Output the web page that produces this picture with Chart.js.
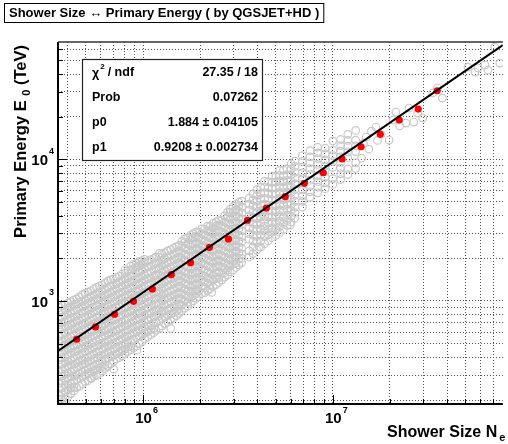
<!DOCTYPE html>
<html><head><meta charset="utf-8">
<script src="https://cdn.jsdelivr.net/npm/chart.js@4/dist/chart.umd.min.js"></script>
<style>html,body{margin:0;padding:0;background:#fff;overflow:hidden}</style>
</head><body>
<canvas id="c" width="508" height="444"></canvas>
<script>
// ---------- data ----------
const titleText = 'Shower Size \u2194 Primary Energy ( by QGSJET+HD )';
const xRange = [3.565e5, 7.87e7];
const yRange = [187.5, 6.73e4];
const xTicks = [4e5,5e5,6e5,7e5,8e5,9e5,1e6,2e6,3e6,4e6,5e6,6e6,7e6,8e6,9e6,1e7,2e7,3e7,4e7,5e7,6e7,7e7];
const yTicks = [200,300,400,500,600,700,800,900,1e3,2e3,3e3,4e3,5e3,6e3,7e3,8e3,9e3,1e4,2e4,3e4,4e4,5e4,6e4];
const xMajor = [1e6, 1e7];
const yMajor = [1e3, 1e4];
const xMajorExp = ['6', '7'];
const yMajorExp = ['3', '4'];

// red profile points
const fitNe = [4.47e5,5.62e5,7.08e5,8.91e5,1.12e6,1.41e6,1.78e6,2.24e6,2.82e6,3.55e6,4.47e6,5.62e6,7.08e6,8.91e6,1.12e7,1.41e7,1.78e7,2.24e7,2.82e7,3.55e7];
const fitE  = [537,656,806,995,1215,1534,1864,2393,2740,3715,4530,5445,6770,8040,10050,12270,15010,18930,22640,30470];

// fitted line end points
const lineNe = [3.565e5, 7.87e7];
const lineE  = [444, 63900];

// grey scatter: shower sizes (columns) and the energies seen in each column
const cloudNe = [3.63e5,3.89e5,4.17e5,4.47e5,4.79e5,5.13e5,5.50e5,5.89e5,6.31e5,6.76e5,7.24e5,7.76e5,8.32e5,8.91e5,9.55e5,1.02e6,1.10e6,1.17e6,1.26e6,1.35e6,1.45e6,1.55e6,1.66e6,1.78e6,1.91e6,2.04e6,2.19e6,2.34e6,2.51e6,2.69e6,2.88e6,3.09e6,3.31e6,3.63e6,3.98e6,4.37e6,4.79e6,5.25e6,5.75e6,6.31e6,6.92e6,7.59e6,8.32e6,9.12e6,1.00e7,1.10e7,1.20e7,1.32e7];
const cloudE = [
 [180,200,216,241,262,292,318,353,384,428,465,516,563,625,680,755,825,900],
 [192,210,228,255,275,306,333,370,402,448,488,541,590,655,714,792,865,945],
 [222,243,262,293,317,354,383,427,464,517,562,626,681,756,824,913,990],
 [245,279,301,338,365,408,443,493,536,596,649,720,786,871,950,1035],
 [260,293,316,355,383,429,463,518,561,627,680,757,823,915,995,1110],
 [274,307,332,371,402,449,486,543,589,656,713,793,864,960,1045,1160],
 [295,322,348,390,421,471,510,569,618,689,748,833,905,1006,1094,1220],
 [308,338,365,409,442,494,535,597,648,722,785,873,950,1055,1146,1275],
 [334,355,389,422,470,511,568,619,687,749,832,906,1004,1097,1215,1340],
 [360,407,444,493,537,596,650,720,787,871,952,1054,1148,1274,1410],
 [390,423,469,512,567,620,686,750,830,908,1003,1098,1213,1327,1470],
 [410,448,488,541,591,655,715,792,866,958,1048,1153,1268,1405,1550],
 [440,472,516,563,624,682,755,826,913,998,1103,1208,1334,1457,1640],
 [466,537,595,650,719,787,870,953,1052,1148,1272,1398,1533,1688,1812],
 [500,561,626,681,754,824,912,1002,1097,1212,1328,1463,1608,1773,1895],
 [542,590,655,714,792,865,958,1047,1153,1266,1403,1527,1693,1857,1965],
 [578,628,680,757,823,915,996,1104,1207,1335,1456,1614,1766,1955],
 [621,713,791,864,959,1046,1155,1265,1404,1526,1695,1855,2045],
 [666,750,831,907,1004,1096,1214,1326,1465,1606,1774,1946,2145],
 [712,793,866,952,1055,1147,1273,1397,1535,1686,1863,2037,2260],
 [762,826,914,998,1102,1206,1333,1458,1612,1768,1953,2138,2365],
 [818,880,951,1053,1146,1274,1396,1534,1687,1864,2036,2255,2466],
 [890,1003,1098,1212,1328,1462,1607,1772,1948,2143,2357,2594,2745],
 [958,1048,1154,1267,1404,1528,1692,1858,2044,2247,2474,2716,2905],
 [1045,1128,1214,1326,1463,1608,1774,1946,2142,2363,2588,2855,3075],
 [1130,1268,1403,1526,1694,1856,2043,2252,2468,2724,2985,3225],
 [1185,1332,1457,1613,1768,1953,2137,2364,2586,2853,3137,3375],
 [1265,1405,1527,1696,1855,2046,2248,2473,2717,2994,3286,3535],
 [1352,1463,1606,1775,1947,2144,2356,2593,2847,3143,3446,3705],
 [1475,1585,1700,1857,2042,2253,2466,2723,2988,3294,3615,3985],
 [1605,1772,1946,2145,2358,2592,2846,3144,3453,3796,4185,4440],
 [1725,1858,2043,2246,2474,2716,2993,3287,3624,3986,4384,4815],
 [1868,2000,2142,2357,2594,2848,3137,3455,3795,4183,4587,5060],
 [2045,2255,2720,2985,3295,3615,3995,4385,4825,5310],
 [2290,2590,2852,3138,3452,3803,4176,4594,5047,5565,6110],
 [2540,2850,3100,3380,3700,4020,4390,4820,5290,5810,6400,6980],
 [2800,3060,3300,3620,3950,4330,4720,5170,5680,6250,6880,7600],
 [3050,3350,3660,4010,4400,4830,5320,5840,6420,7040,7700,8350],
 [3420,3700,4050,4450,4870,5350,5890,6480,7110,7800,8560],
 [3850,4200,4600,5050,5560,6110,6700,7380,8100,8900,9700],
 [4600,5050,5520,6080,6650,7300,8030,8800,9660,10600],
 [5400,5900,6500,7120,7820,8600,9450,10400,11500],
 [5800,6350,6950,7650,8400,9200,10100,11100,12200],
 [6200,6800,7450,8180,9000,9900,10900,12000],
 [6650,7300,8780,9650,10600,11600,13500],
 [7200,7900,8650,9500,10400,11400,12500,13800],
 [7800,8550,10300,11300,12400,13600,15000],
 [8600,9450,11350,12450,13650,16000]
];
// grey scatter, in-between columns
const midNe = [3.76e5,4.03e5,4.32e5,4.62e5,4.95e5,5.31e5,5.69e5,6.10e5,6.53e5,7.00e5,7.50e5,8.04e5,8.61e5,9.23e5,9.89e5,1.06e6,1.14e6,1.22e6,1.30e6,1.40e6,1.50e6,1.60e6,1.72e6,1.84e6,1.97e6,2.11e6,2.26e6,2.43e6,2.60e6,2.79e6,2.99e6,3.20e6,3.80e6,4.17e6,4.57e6,5.01e6,5.50e6,6.03e6];
const midE = [
 [186,204,224,244,272,296,329,358,398,434,481,525,581,636,703,769,851,925],
 [212,236,257,285,311,345,376,417,455,504,550,610,666,737,807,892,968],
 [233,247,272,296,328,359,397,435,480,526,580,637,702,770,850,932,1015],
 [250,284,311,344,378,414,458,501,553,607,669,734,810,889,980,1070],
 [270,298,326,361,395,437,478,528,578,639,700,772,848,935,1024,1130],
 [283,313,342,378,414,458,501,553,607,669,734,810,889,980,1075,1180],
 [298,328,359,397,435,480,526,580,637,702,770,850,932,1026,1128,1245],
 [320,344,378,414,458,501,553,607,669,734,810,889,980,1075,1180,1300],
 [346,396,437,478,528,578,639,700,772,848,935,1024,1128,1240,1380],
 [375,414,458,501,553,607,669,734,810,889,980,1075,1180,1300,1430],
 [398,437,478,528,578,639,700,772,848,935,1024,1128,1240,1363,1497],
 [424,458,501,553,607,669,734,810,889,980,1075,1180,1300,1435,1568,1660],
 [452,479,527,579,638,701,771,849,933,1025,1128,1240,1363,1497,1650,1760],
 [481,552,608,668,735,809,890,979,1076,1179,1302,1435,1568,1732,1850],
 [518,579,638,701,771,849,933,1025,1128,1240,1363,1497,1650,1814,1930],
 [557,608,668,735,809,890,979,1076,1179,1302,1435,1568,1732,1907],
 [598,638,701,771,849,933,1025,1128,1240,1363,1497,1650,1814,1999],
 [642,720,790,868,950,1048,1152,1270,1390,1530,1685,1850,2035,2165],
 [690,771,849,933,1025,1128,1240,1363,1497,1650,1814,1999,2194],
 [736,809,890,979,1076,1179,1302,1435,1568,1732,1907,2091,2306],
 [788,849,933,1025,1128,1240,1363,1497,1650,1814,1999,2194,2419],
 [850,935,1030,1129,1244,1370,1505,1655,1822,2004,2200,2425,2640],
 [920,979,1076,1179,1302,1435,1568,1732,1907,2091,2306,2532,2788],
 [1000,1085,1185,1300,1430,1575,1730,1905,2090,2300,2530,2790,2990],
 [1076,1179,1302,1435,1568,1732,1907,2091,2306,2532,2788,3065],
 [1145,1240,1363,1497,1650,1814,1999,2194,2419,2655,2921,3219],
 [1220,1302,1435,1568,1732,1907,2091,2306,2532,2788,3065,3372],
 [1305,1440,1580,1740,1910,2100,2310,2540,2790,3070,3380,3610],
 [1405,1568,1732,1907,2091,2306,2532,2788,3065,3372,3711],
 [1525,1650,1814,1999,2194,2419,2655,2921,3219,3536,3895,4250],
 [1655,1820,2000,2200,2420,2660,2930,3220,3540,3890,4280,4650],
 [1795,1999,2194,2419,2655,2921,3219,3536,3895,4285,4705,4990],
 [2160,2400,2650,2920,3210,3530,3890,4280,4710,5180,5700],
 [2400,2650,2930,3230,3560,3920,4320,4750,5230,5750,6330],
 [2660,2930,3220,3550,3910,4300,4740,5220,5740,6320,6960],
 [2900,3200,3520,3880,4270,4700,5180,5700,6270,6900,7600],
 [3210,3530,3890,4280,4710,5190,5710,6290,6920,7620,8400],
 [3600,3960,4360,4800,5290,5820,6410,7050,7760,8540,9300]
];
// isolated grey points
const strayNe = [5.36e5,7.0e5,9.3e5,1.4e6,2.3e6,4.1e6,5.97e6,1.42e7,1.45e7,1.50e7,1.55e7,1.60e7,1.69e7,1.72e7,1.80e7,1.98e7,2.08e7,2.15e7,2.25e7,2.43e7,2.52e7,2.67e7,2.80e7,2.98e7,3.36e7,3.56e7,3.78e7,5.16e7,5.62e7,5.83e7,6.34e7,6.58e7,7.14e7,7.59e7];
const strayE  = [286,330,450,640,1150,2415,3436,10200,12900,14360,11800,15800,16900,13600,15000,13680,18920,21570,17200,18030,23000,18330,21200,19540,29380,31840,27040,44770,41300,44060,46240,42660,61940,47750];

// fit statistics box
const statNames  = ['\u03C7', 'Prob', 'p0', 'p1'];
const statValues = ['27.35 / 18', '0.07262', '1.884 \u00B1 0.04105', '0.9208 \u00B1 0.002734'];

const xTitle = 'Shower Size N';
const xTitleSub = 'e';
const yTitleMain = 'Primary Energy E';
const yTitleSub = '0';
const yTitleEnd = ' (TeV)';

// ---------- build ----------
const cloudPts = [];
cloudNe.forEach((ne, i) => cloudE[i].forEach(e => cloudPts.push({x: ne, y: e})));
midNe.forEach((ne, i) => midE[i].forEach(e => cloudPts.push({x: ne, y: e})));
strayNe.forEach((ne, i) => cloudPts.push({x: ne, y: strayE[i]}));
const fitPts = fitNe.map((ne, i) => ({x: ne, y: fitE[i]}));
const linePts = lineNe.map((ne, i) => ({x: ne, y: lineE[i]}));

const FONT = '"Liberation Sans", Arial, Helvetica, sans-serif';

const deco = {
  id: 'deco',
  afterDraw(chart) {
    const ctx = chart.ctx, a = chart.chartArea, xs = chart.scales.x, ys = chart.scales.y;
    ctx.save();
    // inner ticks
    ctx.strokeStyle = '#000'; ctx.lineWidth = 1;
    yTicks.forEach(v => {
      const p = Math.round(ys.getPixelForValue(v)) + 0.5;
      const len = yMajor.includes(v) ? 9 : 5;
      ctx.beginPath(); ctx.moveTo(a.left, p); ctx.lineTo(a.left + len, p); ctx.stroke();
    });
    xTicks.forEach(v => {
      const p = Math.round(xs.getPixelForValue(v)) + 0.5;
      const len = xMajor.includes(v) ? 9 : 5;
      ctx.beginPath(); ctx.moveTo(p, a.bottom); ctx.lineTo(p, a.bottom - len); ctx.stroke();
    });
    // frame
    ctx.lineWidth = 2; ctx.strokeStyle = '#000';
    ctx.beginPath(); ctx.moveTo(a.left, a.top); ctx.lineTo(a.left, a.bottom); ctx.lineTo(a.right, a.bottom); ctx.stroke();
    ctx.strokeStyle = '#333'; ctx.lineWidth = 1.5;
    ctx.beginPath(); ctx.moveTo(a.left, a.top); ctx.lineTo(a.right, a.top); ctx.stroke();

    ctx.fillStyle = '#000';
    // x tick labels
    xMajor.forEach((v, i) => {
      const p = xs.getPixelForValue(v);
      ctx.font = 'bold 15px ' + FONT; ctx.textAlign = 'center'; ctx.textBaseline = 'middle';
      ctx.fillText('10', p + 0.5, 419);
      ctx.font = 'bold 9px ' + FONT; ctx.textAlign = 'left';
      ctx.fillText(xMajorExp[i], p + 10, 411);
    });
    // y tick labels
    yMajor.forEach((v, i) => {
      const p = ys.getPixelForValue(v);
      ctx.font = 'bold 15px ' + FONT; ctx.textAlign = 'right'; ctx.textBaseline = 'middle';
      ctx.fillText('10', 48, p + 1.5);
      ctx.font = 'bold 9px ' + FONT; ctx.textAlign = 'left';
      ctx.fillText(yMajorExp[i], 49, p - 8);
    });

    // x title
    ctx.font = 'bold 16px ' + FONT; ctx.textAlign = 'left'; ctx.textBaseline = 'alphabetic';
    ctx.fillText(xTitle, 387, 437);
    const wx = ctx.measureText(xTitle).width;
    ctx.font = 'bold 11px ' + FONT;
    ctx.fillText(xTitleSub, 387 + wx + 2, 441);

    // y title (rotated, right-aligned at top)
    ctx.save();
    ctx.translate(26, 45); ctx.rotate(-Math.PI / 2);
    ctx.font = 'bold 16.5px ' + FONT;
    const w1 = ctx.measureText(yTitleMain + ' ').width;
    const w3 = ctx.measureText(yTitleEnd).width;
    ctx.font = 'bold 11px ' + FONT;
    const w2 = ctx.measureText(yTitleSub).width;
    let x0 = -(w1 + w2 + w3);
    ctx.textAlign = 'left'; ctx.textBaseline = 'alphabetic';
    ctx.font = 'bold 16.5px ' + FONT; ctx.fillText(yTitleMain, x0, 0);
    ctx.font = 'bold 11px ' + FONT; ctx.fillText(yTitleSub, x0 + w1, 4);
    ctx.font = 'bold 16.5px ' + FONT; ctx.fillText(yTitleEnd, x0 + w1 + w2, 0);
    ctx.restore();

    // title box
    ctx.font = 'bold 13px ' + FONT; ctx.textAlign = 'left'; ctx.textBaseline = 'middle';
    const tw = ctx.measureText(titleText).width;
    ctx.fillStyle = '#fff'; ctx.fillRect(4, 3, tw + 9, 20);
    ctx.strokeStyle = '#000'; ctx.lineWidth = 1;
    ctx.strokeRect(4.5, 3.5, tw + 9, 19);
    ctx.fillStyle = '#000';
    ctx.fillText(titleText, 9, 13.5);

    // stats box
    const bx = 82.5, by = 59.5, bw = 180, bh = 101;
    ctx.fillStyle = '#fff'; ctx.fillRect(bx, by, bw, bh);
    ctx.strokeStyle = '#222'; ctx.lineWidth = 1.2; ctx.strokeRect(bx, by, bw, bh);
    ctx.fillStyle = '#000';
    const rowH = bh / 4;
    statNames.forEach((nm, i) => {
      const cy = by + rowH * (i + 0.5);
      ctx.font = 'bold 12.5px ' + FONT; ctx.textAlign = 'left'; ctx.textBaseline = 'middle';
      if (i === 0) {
        ctx.fillText(nm, 92, cy + 1);
        const wc = ctx.measureText(nm).width;
        ctx.font = 'bold 8px ' + FONT; ctx.fillText('2', 92 + wc + 1, cy - 5);
        ctx.font = 'bold 12.5px ' + FONT; ctx.fillText(' / ndf', 92 + wc + 5, cy);
      } else {
        ctx.fillText(nm, 92, cy);
      }
      ctx.font = 'bold 12.5px ' + FONT; ctx.textAlign = 'right';
      ctx.fillText(statValues[i], 258, cy);
    });
    ctx.restore();
  }
};

new Chart(document.getElementById('c'), {
  type: 'scatter',
  data: {
    datasets: [
      { data: linePts, showLine: true, borderColor: '#000', borderWidth: 2, pointRadius: 0, clip: 0 },
      { data: fitPts, pointRadius: 3.6, pointBackgroundColor: '#ff0000', pointBorderColor: '#ff0000', pointBorderWidth: 0, clip: 0 },
      { data: cloudPts, pointRadius: 3.8, pointBackgroundColor: 'rgba(0,0,0,0)', pointBorderColor: '#c8c8c8', pointBorderWidth: 1.2, clip: 0 }
    ]
  },
  options: {
    responsive: false, animation: false, devicePixelRatio: 1,
    layout: { padding: { top: 42, left: 0, right: 0, bottom: 0 } },
    plugins: { legend: { display: false }, tooltip: { enabled: false } },
    scales: {
      x: {
        type: 'logarithmic', position: 'bottom', min: xRange[0], max: xRange[1],
        afterBuildTicks: s => { s.ticks = xTicks.map(v => ({ value: v })); },
        afterFit: s => { s.height = 40; },
        ticks: { display: false },
        grid: { color: '#555', lineWidth: 1, drawTicks: false },
        border: { display: false, dash: [1, 2] }
      },
      y: {
        type: 'logarithmic', position: 'left', min: yRange[0], max: yRange[1],
        afterBuildTicks: s => { s.ticks = yTicks.map(v => ({ value: v })); },
        afterFit: s => { s.width = 58; },
        ticks: { display: false },
        grid: { color: '#555', lineWidth: 1, drawTicks: false },
        border: { display: false, dash: [1, 2] }
      }
    }
  },
  plugins: [deco]
});
</script>
</body></html>
